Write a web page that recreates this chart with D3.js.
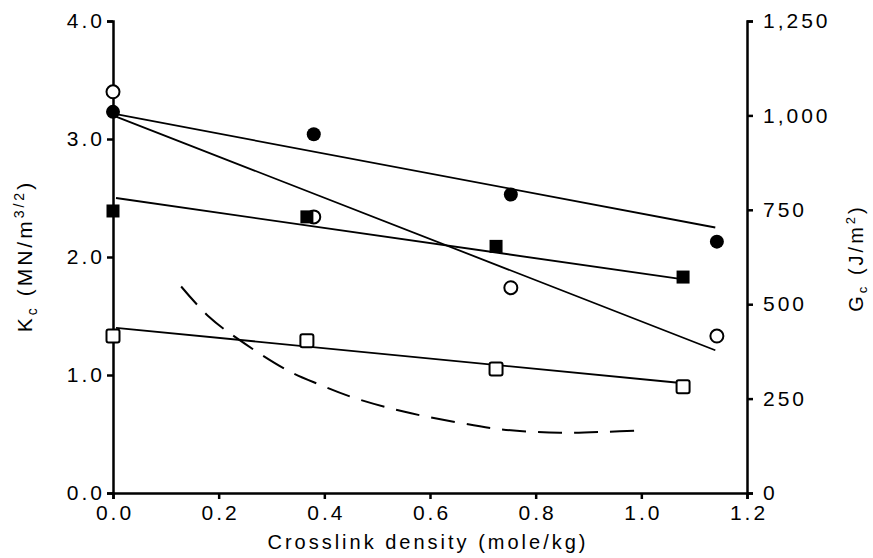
<!DOCTYPE html>
<html lang="en">
<head>
    <meta charset="utf-8">
    <title>D3: Kc and Gc vs crosslink density</title>
    <script type="text/javascript" src="https://d3js.org/d3.v7.min.js"></script>
    <style>
        body { margin: 0; background: #fff; }
        text { font-family: "Liberation Sans", Arial, sans-serif; fill: #000; letter-spacing: 3px; }
    </style>
</head>
<body>
    <script type="text/javascript">

        // Measured points (K_c scale)
        var openCircleX = [0.0, 0.38, 0.753, 1.143];
        var openCircleY = [3.40, 2.34, 1.74, 1.33];
        var filledCircleX = [0.0, 0.38, 0.753, 1.143];
        var filledCircleY = [3.23, 3.04, 2.53, 2.13];
        var filledSquareX = [0.0, 0.367, 0.725, 1.079];
        var filledSquareY = [2.39, 2.34, 2.09, 1.83];
        var openSquareX = [0.0, 0.367, 0.725, 1.079];
        var openSquareY = [1.33, 1.29, 1.05, 0.90];

        // Fitted lines: [x0, y0, x1, y1]
        var fitFilledCircle = [0.0, 3.21, 1.14, 2.25];
        var fitOpenCircle = [0.0, 3.19, 1.14, 1.21];
        var fitFilledSquare = [0.0, 2.50, 1.08, 1.81];
        var fitOpenSquare = [0.0, 1.40, 1.08, 0.93];

        // Dashed curve
        var dashX = [0.129, 0.18, 0.235, 0.33, 0.39, 0.454, 0.55, 0.65, 0.733, 0.846, 0.94, 0.994];
        var dashY = [1.75, 1.50, 1.31, 1.04, 0.92, 0.81, 0.69, 0.60, 0.54, 0.51, 0.52, 0.53];

        var xTicks = [0.0, 0.2, 0.4, 0.6, 0.8, 1.0, 1.2];
        var kTicks = [0.0, 1.0, 2.0, 3.0, 4.0];
        var gTicks = [0, 250, 500, 750, 1000, 1250];

        var svg = d3.select("body").append("svg")
            .attr("width", 873)
            .attr("height", 558);

        var x = d3.scaleLinear().domain([0, 1.2]).range([113, 747]);
        var yK = d3.scaleLinear().domain([0, 4.0]).range([493, 21]);
        var yG = d3.scaleLinear().domain([0, 1250]).range([493, 21]);

        // Axes
        var xAxis = svg.append("g")
            .attr("transform", "translate(0,493)")
            .call(d3.axisBottom(x).tickValues(xTicks).tickFormat(d3.format(".1f")).tickSizeOuter(0).tickSize(6).tickPadding(6));
        var leftAxis = svg.append("g")
            .attr("transform", "translate(113,0)")
            .call(d3.axisLeft(yK).tickValues(kTicks).tickFormat(d3.format(".1f")).tickSizeOuter(0).tickSize(6).tickPadding(2));
        var rightAxis = svg.append("g")
            .attr("transform", "translate(747,0)")
            .call(d3.axisRight(yG).tickValues(gTicks).tickFormat(d3.format(",")).tickSizeOuter(0).tickSize(6).tickPadding(10));

        [xAxis, leftAxis, rightAxis].forEach(function(a) {
            a.select(".domain").attr("stroke", "#000").attr("stroke-width", 2.5);
            a.selectAll(".tick line").attr("stroke", "#000").attr("stroke-width", 2.5);
            a.selectAll(".tick text").style("font-size", "21px").attr("font-family", null);
        });
        // centre x labels despite trailing letter-spacing
        xAxis.selectAll(".tick text").attr("dx", 1.5);

        // Axis titles
        svg.append("text")
            .attr("x", 428).attr("y", 549)
            .attr("text-anchor", "middle")
            .style("font-size", "20px")
            .text("Crosslink density (mole/kg)");

        var kLabel = svg.append("text")
            .attr("transform", "translate(32,256) rotate(-90)")
            .attr("text-anchor", "middle")
            .style("font-size", "21px");
        kLabel.append("tspan").text("K");
        kLabel.append("tspan").attr("dy", 5).style("font-size", "14px").text("c");
        kLabel.append("tspan").attr("dy", -5).text(" (MN/m");
        kLabel.append("tspan").attr("dy", -8).style("font-size", "14px").text("3/2");
        kLabel.append("tspan").attr("dy", 8).text(")");

        var gLabel = svg.append("text")
            .attr("transform", "translate(863,258) rotate(-90)")
            .attr("text-anchor", "middle")
            .style("font-size", "20px");
        gLabel.append("tspan").text("G");
        gLabel.append("tspan").attr("dy", 4).style("font-size", "13px").text("c");
        gLabel.append("tspan").attr("dy", -4).text(" (J/m");
        gLabel.append("tspan").attr("dy", -8).style("font-size", "13px").text("2");
        gLabel.append("tspan").attr("dy", 8).text(")");

        // Fit lines
        [fitFilledCircle, fitOpenCircle, fitFilledSquare, fitOpenSquare].forEach(function(f) {
            svg.append("line")
                .attr("x1", x(f[0]) + 3).attr("y1", yK(f[1]))
                .attr("x2", x(f[2])).attr("y2", yK(f[3]))
                .attr("stroke", "#000").attr("stroke-width", 1.8);
        });

        // Dashed curve
        var dashData = dashX.map(function(d, i) { return [d, dashY[i]]; });
        svg.append("path")
            .datum(dashData)
            .attr("d", d3.line().x(function(d) { return x(d[0]); }).y(function(d) { return yK(d[1]); }).curve(d3.curveCatmullRom))
            .attr("fill", "none")
            .attr("stroke", "#000")
            .attr("stroke-width", 2)
            .attr("stroke-dasharray", "24,12");

        // Markers
        function zip(xs, ys) { return xs.map(function(d, i) { return { x: d, y: ys[i] }; }); }

        svg.selectAll("circle.open")
            .data(zip(openCircleX, openCircleY))
            .enter().append("circle")
            .attr("class", "open")
            .attr("cx", function(d) { return x(d.x); })
            .attr("cy", function(d) { return yK(d.y); })
            .attr("r", 6.5)
            .attr("fill", "#fff").attr("stroke", "#000").attr("stroke-width", 2);

        svg.selectAll("circle.filled")
            .data(zip(filledCircleX, filledCircleY))
            .enter().append("circle")
            .attr("class", "filled")
            .attr("cx", function(d) { return x(d.x); })
            .attr("cy", function(d) { return yK(d.y); })
            .attr("r", 7)
            .attr("fill", "#000");

        svg.selectAll("rect.filled")
            .data(zip(filledSquareX, filledSquareY))
            .enter().append("rect")
            .attr("class", "filled")
            .attr("x", function(d) { return x(d.x) - 6.5; })
            .attr("y", function(d) { return yK(d.y) - 6.5; })
            .attr("width", 13).attr("height", 13)
            .attr("fill", "#000");

        svg.selectAll("rect.open")
            .data(zip(openSquareX, openSquareY))
            .enter().append("rect")
            .attr("class", "open")
            .attr("x", function(d) { return x(d.x) - 6.5; })
            .attr("y", function(d) { return yK(d.y) - 6.5; })
            .attr("width", 13).attr("height", 13)
            .attr("rx", 2)
            .attr("fill", "#fff").attr("stroke", "#000").attr("stroke-width", 2);

    </script>
</body>
</html>
